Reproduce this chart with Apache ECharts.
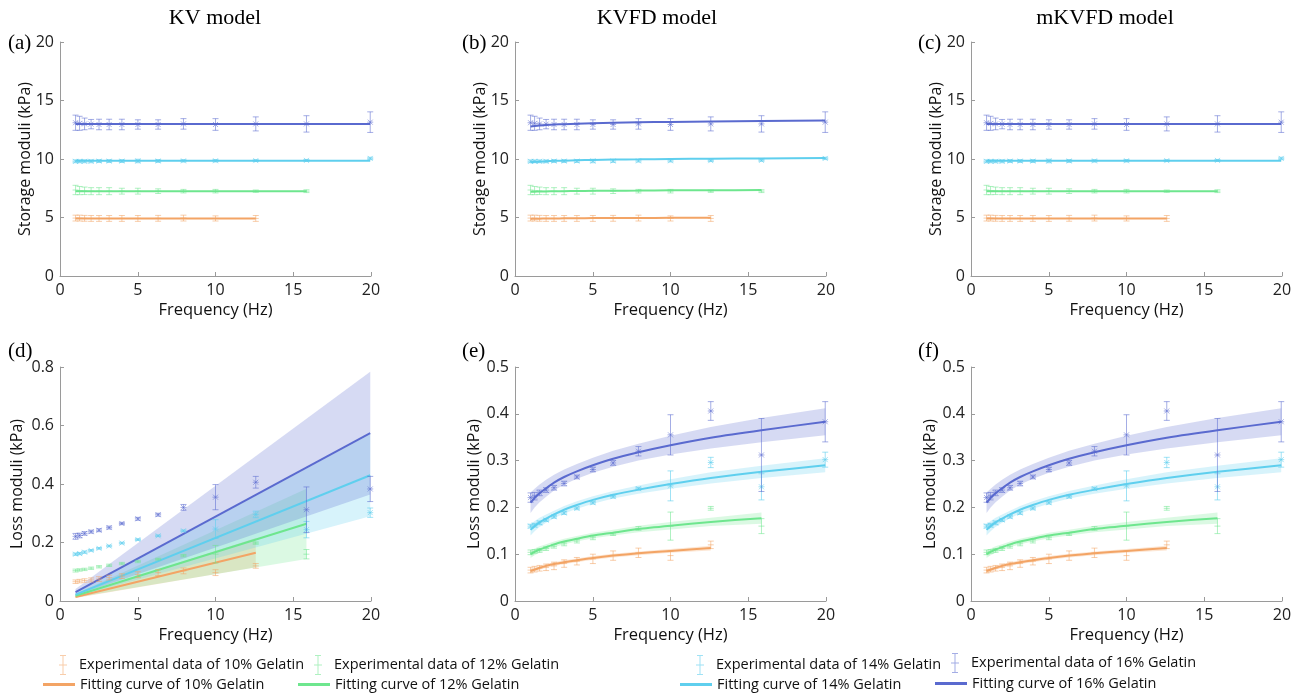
<!DOCTYPE html>
<html lang="en">
<head>
    <meta charset="UTF-8">
    <title>Storage and loss moduli of gelatin</title>
    <script src="https://cdn.jsdelivr.net/npm/echarts@6.0.0/dist/echarts.min.js"></script>
    <style>
        html, body { margin: 0; padding: 0; background: #fff; }
        #chart { width: 1298px; height: 700px; }
    </style>
</head>
<body>
<div id="chart"></div>
<script>
    // frequencies (Hz) of the measurements
    var freq = [1, 1.26, 1.58, 2, 2.51, 3.16, 3.98, 5.01, 6.31, 7.94, 10, 12.59, 15.85, 19.95];

    // experimental storage moduli (kPa) and error
    var sto10 = [4.95, 4.95, 4.93, 4.92, 4.92, 4.92, 4.92, 4.92, 4.93, 4.95, 4.92, 4.92];
    var sto10Err = [0.25, 0.25, 0.25, 0.25, 0.25, 0.25, 0.25, 0.25, 0.25, 0.25, 0.22, 0.25];
    var sto12 = [7.35, 7.30, 7.28, 7.25, 7.25, 7.25, 7.25, 7.25, 7.25, 7.25, 7.25, 7.25, 7.25];
    var sto12Err = [0.40, 0.35, 0.32, 0.30, 0.30, 0.30, 0.25, 0.25, 0.20, 0.15, 0.15, 0.10, 0.12];
    var sto14 = [9.80, 9.80, 9.80, 9.80, 9.82, 9.82, 9.82, 9.83, 9.83, 9.84, 9.85, 9.86, 9.88, 10.05];
    var sto14Err = [0.12, 0.12, 0.12, 0.12, 0.12, 0.12, 0.12, 0.15, 0.12, 0.10, 0.10, 0.08, 0.08, 0.10];
    var sto16 = [13.10, 13.05, 13.00, 12.98, 12.95, 12.95, 12.95, 12.95, 12.95, 13.00, 12.95, 13.00, 13.00, 13.15];
    var sto16Err = [0.65, 0.60, 0.50, 0.40, 0.45, 0.45, 0.45, 0.40, 0.40, 0.45, 0.50, 0.60, 0.70, 0.88];

    // experimental loss moduli (kPa) and error
    var loss10 = [0.066, 0.068, 0.070, 0.072, 0.075, 0.080, 0.085, 0.090, 0.097, 0.103, 0.097, 0.120];
    var loss10Err = [0.006, 0.006, 0.006, 0.007, 0.008, 0.008, 0.008, 0.010, 0.010, 0.010, 0.010, 0.008];
    var loss12 = [0.104, 0.106, 0.108, 0.112, 0.117, 0.122, 0.128, 0.135, 0.143, 0.155, 0.160, 0.198, 0.160];
    var loss12Err = [0.005, 0.004, 0.004, 0.004, 0.004, 0.004, 0.004, 0.004, 0.003, 0.004, 0.030, 0.004, 0.016];
    var loss14 = [0.160, 0.162, 0.167, 0.173, 0.180, 0.188, 0.198, 0.210, 0.223, 0.240, 0.246, 0.296, 0.244, 0.302];
    var loss14Err = [0.004, 0.004, 0.004, 0.003, 0.003, 0.003, 0.003, 0.003, 0.003, 0.003, 0.032, 0.011, 0.028, 0.016];
    var loss16 = [0.221, 0.224, 0.231, 0.237, 0.242, 0.251, 0.265, 0.281, 0.295, 0.320, 0.355, 0.406, 0.312, 0.383];
    var loss16Err = [0.010, 0.008, 0.006, 0.005, 0.005, 0.005, 0.004, 0.005, 0.005, 0.010, 0.043, 0.020, 0.078, 0.043];

    // straight fits: start and end frequency
    var end10 = [1, 12.59];
    var end12 = [1, 15.85];
    var end14 = [1, 19.95];
    var end16 = [1, 19.95];

    // KV model fits
    var kvSto10 = [4.92, 4.92];
    var kvSto12 = [7.25, 7.25];
    var kvSto14 = [9.85, 9.85];
    var kvSto16 = [13.0, 13.0];
    var kvLoss10 = [0.014, 0.165];
    var kvLoss12 = [0.018, 0.264];
    var kvLoss14 = [0.022, 0.430];
    var kvLoss16 = [0.030, 0.574];
    var kvHalf10 = [0.004, 0.050];
    var kvHalf12 = [0.006, 0.120];
    var kvHalf14 = [0.007, 0.140];
    var kvHalf16 = [0.011, 0.210];

    // KVFD model fits
    var kvfdSto10 = [4.88, 4.89, 4.90, 4.91, 4.92, 4.93, 4.94, 4.95, 4.96, 4.96, 4.97, 4.98];
    var kvfdSto12 = [7.20, 7.21, 7.22, 7.23, 7.24, 7.25, 7.27, 7.28, 7.29, 7.30, 7.32, 7.33, 7.35];
    var kvfdSto14 = [9.73, 9.76, 9.78, 9.81, 9.84, 9.86, 9.89, 9.92, 9.95, 9.97, 10.00, 10.03, 10.05, 10.08];
    var kvfdSto16 = [12.78, 12.82, 12.86, 12.90, 12.94, 12.98, 13.02, 13.06, 13.10, 13.14, 13.17, 13.21, 13.25, 13.30];
    var kvfdLoss10 = [0.064, 0.067, 0.071, 0.075, 0.079, 0.083, 0.087, 0.092, 0.097, 0.102, 0.107, 0.113];
    var kvfdLoss12 = [0.100, 0.105, 0.110, 0.115, 0.121, 0.127, 0.133, 0.140, 0.146, 0.154, 0.161, 0.169, 0.177];
    var kvfdLoss14 = [0.152, 0.160, 0.168, 0.176, 0.185, 0.195, 0.205, 0.216, 0.227, 0.238, 0.250, 0.263, 0.276, 0.290];
    var kvfdLoss16 = [0.210, 0.220, 0.230, 0.241, 0.253, 0.265, 0.277, 0.290, 0.304, 0.318, 0.333, 0.349, 0.365, 0.383];
    var kvfdHalf10 = [0.005, 0.004, 0.004, 0.004, 0.004, 0.004, 0.004, 0.004, 0.004, 0.004, 0.004, 0.005];
    var kvfdHalf12 = [0.008, 0.007, 0.007, 0.006, 0.006, 0.006, 0.006, 0.006, 0.006, 0.007, 0.008, 0.009, 0.012];
    var kvfdHalf14 = [0.012, 0.011, 0.010, 0.009, 0.008, 0.008, 0.008, 0.008, 0.008, 0.009, 0.010, 0.012, 0.013, 0.015];
    var kvfdHalf16 = [0.022, 0.020, 0.019, 0.018, 0.017, 0.016, 0.016, 0.016, 0.017, 0.018, 0.020, 0.023, 0.026, 0.029];

    // mKVFD model fits
    var mkSto10 = [4.92, 4.92];
    var mkSto12 = [7.25, 7.25];
    var mkSto14 = [9.85, 9.85];
    var mkSto16 = [13.0, 13.0];
    var mkLoss10 = kvfdLoss10, mkLoss12 = kvfdLoss12, mkLoss14 = kvfdLoss14, mkLoss16 = kvfdLoss16;
    var mkHalf10 = kvfdHalf10, mkHalf12 = kvfdHalf12, mkHalf14 = kvfdHalf14, mkHalf16 = kvfdHalf16;

    var modelTitles = ['KV model', 'KVFD model', 'mKVFD model'];
    var panelLabels = ['(a)', '(b)', '(c)', '(d)', '(e)', '(f)'];
    var gels = ['10%', '12%', '14%', '16%'];

    // styles
    var FONT = '"Open Sans", "Noto Sans", sans-serif';
    var lineCol = ['#f3a465', '#6ee68e', '#5fcfee', '#5a6acf'];
    var faintCol = ['rgba(243,164,101,0.55)', 'rgba(110,230,142,0.55)', 'rgba(95,207,238,0.6)', 'rgba(90,106,207,0.55)'];
    var bandCol = ['rgba(243,164,101,0.28)', 'rgba(110,230,142,0.25)', 'rgba(95,207,238,0.25)', 'rgba(90,106,207,0.25)'];
    var colLeft = [60, 515, 971];
    var rowTop = [42, 367];
    var yNameGap = [[27, 27, 27], [35, 33, 33]];

    function expName(g) { return 'Experimental data of ' + gels[g] + ' Gelatin'; }
    function fitName(g) { return 'Fitting curve of ' + gels[g] + ' Gelatin'; }

    function errSeries(panel, g, ys, es) {
        var col = faintCol[g];
        var star = g >= 2;
        return {
            type: 'custom', name: expName(g),
            xAxisIndex: panel, yAxisIndex: panel,
            itemStyle: { color: col },
            encode: { x: 0, y: 1 },
            z: 5,
            data: ys.map(function (y, i) { return [freq[i], y, es[i]]; }),
            renderItem: function (params, api) {
                var x = api.value(0), y = api.value(1), e = api.value(2);
                var p = api.coord([x, y]);
                var t = api.coord([x, y + e]);
                var b = api.coord([x, y - e]);
                var st = { stroke: col, lineWidth: 1, fill: null };
                var kids = [
                    { type: 'line', shape: { x1: p[0], y1: t[1], x2: p[0], y2: b[1] }, style: st },
                    { type: 'line', shape: { x1: p[0] - 3, y1: t[1], x2: p[0] + 3, y2: t[1] }, style: st },
                    { type: 'line', shape: { x1: p[0] - 3, y1: b[1], x2: p[0] + 3, y2: b[1] }, style: st },
                    { type: 'line', shape: { x1: p[0] - 3, y1: p[1], x2: p[0] + 3, y2: p[1] }, style: st }
                ];
                if (star) {
                    kids.push({ type: 'line', shape: { x1: p[0] - 2.5, y1: p[1] - 2.5, x2: p[0] + 2.5, y2: p[1] + 2.5 }, style: st });
                    kids.push({ type: 'line', shape: { x1: p[0] - 2.5, y1: p[1] + 2.5, x2: p[0] + 2.5, y2: p[1] - 2.5 }, style: st });
                }
                return { type: 'group', children: kids };
            }
        };
    }

    function fitSeries(panel, g, xs, ys) {
        return {
            type: 'line', name: fitName(g),
            xAxisIndex: panel, yAxisIndex: panel,
            data: ys.map(function (y, i) { return [xs[i], y]; }),
            showSymbol: false, symbol: 'none',
            smooth: 0.2,
            lineStyle: { color: lineCol[g], width: 2 },
            itemStyle: { color: lineCol[g] },
            z: 3
        };
    }

    function bandSeries(panel, g, xs, mid, half) {
        return {
            type: 'custom', name: fitName(g),
            xAxisIndex: panel, yAxisIndex: panel,
            itemStyle: { color: lineCol[g] },
            encode: { x: 0, y: 1 },
            z: 3,
            silent: true,
            data: mid.map(function (y, i) { return [xs[i], y]; }),
            renderItem: function (params, api) {
                if (params.dataIndex !== 0) return;
                var up = xs.map(function (x, i) { return api.coord([x, mid[i] + half[i]]); });
                var lo = xs.map(function (x, i) { return api.coord([x, mid[i] - half[i]]); }).reverse();
                return { type: 'polygon', shape: { points: up.concat(lo) }, style: { fill: bandCol[g] } };
            }
        };
    }

    var grids = [], xAxes = [], yAxes = [], series = [];
    for (var r = 0; r < 2; r++) {
        for (var c = 0; c < 3; c++) {
            var i = r * 3 + c;
            grids.push({ left: colLeft[c], top: rowTop[r], width: 311, height: 234 });
            xAxes.push({
                gridIndex: i, type: 'value', min: 0, max: 20, interval: 5,
                name: 'Frequency (Hz)', nameLocation: 'middle', nameGap: 26,
                nameTextStyle: { fontSize: 16.5, color: '#111', fontFamily: FONT },
                axisLine: { lineStyle: { color: '#9a9a9a', width: 1 } },
                axisTick: { inside: true, length: 4, lineStyle: { color: '#9a9a9a' } },
                axisLabel: { fontSize: 16, color: '#222', fontFamily: FONT, margin: 6 },
                splitLine: { show: false }
            });
            var yMax = r === 0 ? 20 : (c === 0 ? 0.8 : 0.5);
            var yInt = r === 0 ? 5 : (c === 0 ? 0.2 : 0.1);
            yAxes.push({
                gridIndex: i, type: 'value', min: 0, max: yMax, interval: yInt,
                name: r === 0 ? 'Storage moduli (kPa)' : 'Loss moduli (kPa)',
                nameLocation: 'middle', nameGap: yNameGap[r][c], nameMoveOverlap: false,
                nameTextStyle: { fontSize: 16, color: '#111', fontFamily: FONT },
                axisLine: { show: true, lineStyle: { color: '#9a9a9a', width: 1 } },
                axisTick: { show: true, inside: true, length: 4, lineStyle: { color: '#9a9a9a' } },
                axisLabel: { fontSize: 16, color: '#222', fontFamily: FONT, margin: 6 },
                splitLine: { show: false }
            });
        }
    }

    var stoExp = [[sto10, sto10Err], [sto12, sto12Err], [sto14, sto14Err], [sto16, sto16Err]];
    var ends = [end10, end12, end14, end16];
    var kvSto = [kvSto10, kvSto12, kvSto14, kvSto16];
    var kvfdSto = [kvfdSto10, kvfdSto12, kvfdSto14, kvfdSto16];
    var mkSto = [mkSto10, mkSto12, mkSto14, mkSto16];
    var lossExp = [[loss10, loss10Err], [loss12, loss12Err], [loss14, loss14Err], [loss16, loss16Err]];
    var kvLoss = [kvLoss10, kvLoss12, kvLoss14, kvLoss16];
    var kvHalf = [kvHalf10, kvHalf12, kvHalf14, kvHalf16];
    var kvfdLoss = [kvfdLoss10, kvfdLoss12, kvfdLoss14, kvfdLoss16];
    var kvfdHalf = [kvfdHalf10, kvfdHalf12, kvfdHalf14, kvfdHalf16];
    var mkLoss = [mkLoss10, mkLoss12, mkLoss14, mkLoss16];
    var mkHalf = [mkHalf10, mkHalf12, mkHalf14, mkHalf16];

    // band then line per gelatin, so later bands tint earlier lines
    for (var g = 0; g < 4; g++) {
        series.push(fitSeries(0, g, ends[g], kvSto[g]));
        series.push(fitSeries(1, g, freq, kvfdSto[g]));
        series.push(fitSeries(2, g, ends[g], mkSto[g]));

        series.push(bandSeries(3, g, ends[g], kvLoss[g], kvHalf[g]));
        series.push(fitSeries(3, g, ends[g], kvLoss[g]));
        series.push(bandSeries(4, g, freq, kvfdLoss[g], kvfdHalf[g]));
        series.push(fitSeries(4, g, freq, kvfdLoss[g]));
        series.push(bandSeries(5, g, freq, mkLoss[g], mkHalf[g]));
        series.push(fitSeries(5, g, freq, mkLoss[g]));
    }
    for (var g2 = 0; g2 < 4; g2++) {
        for (var p = 0; p < 3; p++) {
            series.push(errSeries(p, g2, stoExp[g2][0], stoExp[g2][1]));
            series.push(errSeries(p + 3, g2, lossExp[g2][0], lossExp[g2][1]));
        }
    }

    // legends: two rows, four columns
    var errIcon = 'path://M3,0h6v1h-6z M5.5,1h1v18h-1z M3,19h6v1h-6z M2,9.5h8v1h-8z';
    var legExpLeft = [59, 314, 696, 951];
    var legExpTop = [655, 655, 655, 653];
    var legFitLeft = [43, 298, 680, 935];
    var legFitTop = [677, 677, 677, 676];
    var legends = [];
    for (var k = 0; k < 4; k++) {
        legends.push({
            left: legExpLeft[k], top: legExpTop[k], padding: 0,
            itemWidth: 22, itemHeight: 20, itemGap: 0,
            textStyle: { fontSize: 14.5, color: '#111', fontFamily: FONT },
            data: [{ name: expName(k), icon: errIcon, itemStyle: { color: faintCol[k] } }]
        });
        legends.push({
            left: legFitLeft[k], top: legFitTop[k], padding: 0,
            itemWidth: 32, itemHeight: 3, itemGap: 0,
            textStyle: { fontSize: 14.5, color: '#111', fontFamily: FONT },
            data: [{ name: fitName(k), icon: 'rect', itemStyle: { color: lineCol[k] } }]
        });
    }

    var graphics = [];
    var titleX = [215, 657, 1105];
    for (var t = 0; t < 3; t++) {
        graphics.push({
            type: 'text', x: titleX[t], y: 18,
            style: { text: modelTitles[t], align: 'center', verticalAlign: 'middle', fill: '#000',
                     font: '22px "Liberation Serif", "Times New Roman", serif' }
        });
    }
    var labX = [8, 462, 918];
    var labY = [43, 351];
    for (var q = 0; q < 6; q++) {
        graphics.push({
            type: 'text', x: labX[q % 3], y: labY[Math.floor(q / 3)],
            style: { text: panelLabels[q], align: 'left', verticalAlign: 'middle', fill: '#000',
                     font: '21px "Liberation Serif", "Times New Roman", serif' }
        });
    }

    var chart = echarts.init(document.getElementById('chart'));
    chart.setOption({
        animation: false,
        backgroundColor: '#fff',
        grid: grids,
        xAxis: xAxes,
        yAxis: yAxes,
        legend: legends,
        graphic: graphics,
        series: series
    });
</script>
</body>
</html>
